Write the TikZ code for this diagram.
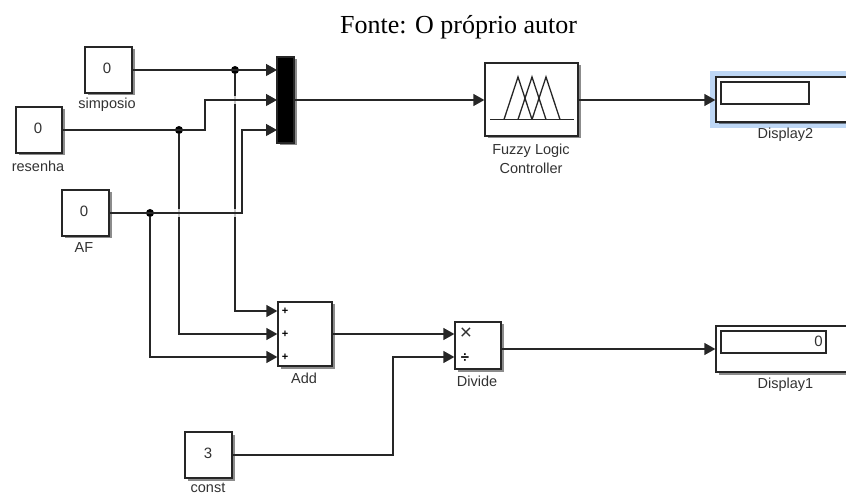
\documentclass[tikz,border=0pt]{standalone}
\usepackage{fontspec}
\setmainfont{Liberation Serif}
\setsansfont{Liberation Sans}
\usetikzlibrary{arrows.meta,shadows}
\definecolor{hl}{RGB}{190,215,245}
\definecolor{lab}{RGB}{50,50,50}
\tikzset{
  x=1pt,y=-1pt,
  blk/.style={draw=black!85,line width=1.3pt,fill=white,inner sep=0pt,
     drop shadow={shadow xshift=2.5pt,shadow yshift=-2.5pt,opacity=.45,fill=black}},
  lbl/.style={font=\sffamily\fontsize{14.5}{19}\selectfont,text=lab,inner sep=0pt,align=center},
  val/.style={font=\sffamily\fontsize{15}{15}\selectfont,text=lab,inner sep=0pt},
  wire/.style={draw=black!85,line width=1.3pt},
  sig/.style={wire,-{Triangle[length=11pt,width=12pt]}},
  dot/.style={circle,fill=black,inner sep=0pt,minimum size=8pt},
  sgn/.style={font=\sffamily\bfseries\fontsize{11}{11}\selectfont,inner sep=0pt,text=black},
  gap/.style={white,line width=2.5pt,opacity=.75},
}
\begin{document}
\begin{tikzpicture}
\useasboundingbox (0,0) rectangle (846,494);
\clip (0,0) rectangle (846,494);
\node[inner sep=0pt,anchor=base,font=\fontsize{26}{28}\selectfont] (cap) at (458.5,33.5) {Fonte: O próprio autor};
% constants
\node[blk,minimum width=47pt,minimum height=46pt] (simp) at (108.5,70) {};
\node[val] (simpv) at (107,68) {0};
\node[blk,minimum width=46pt,minimum height=46pt] (res) at (39,130) {};
\node[val] (resv) at (38,128.5) {0};
\node[blk,minimum width=47pt,minimum height=46pt] (af) at (85.5,213) {};
\node[val] (afv) at (84,211.5) {0};
\node[blk,minimum width=47pt,minimum height=46pt] (const) at (208.5,455) {};
\node[val] (constv) at (208,453.5) {3};
\node[lbl] (simpl) at (107,105) {simposio};
\node[lbl] (resl) at (38,166) {resenha};
\node[lbl] (afl) at (84,248) {AF};
\node[lbl] (constl) at (208,487.5) {const};
% mux
\node[blk,fill=black,minimum width=17pt,minimum height=86pt] (mux) at (285.5,100) {};
\coordinate (m1) at (277,70);
\coordinate (m2) at (277,100);
\coordinate (m3) at (277,130);
% fuzzy
\node[blk,minimum width=93pt,minimum height=73pt] (fuzzy) at (531.5,99.5) {};
\draw[wire] (490,119.5) -- (574,119.5);
\foreach \c in {518,532,546}
  \draw[wire,line join=miter] (\c-14,119.5) -- (\c,77) -- (\c+14,119.5);
\node[lbl] (fuzzyl) at (531,158.5) {Fuzzy Logic\\Controller};
% displays
\fill[hl] (710,71) rectangle (846,128);
\node[blk,minimum width=140pt,minimum height=45pt] (d2) at (786,99.5) {};
\draw[wire] (721,82) rectangle (809,104);
\node[lbl] (d2l) at (785.5,135) {Display2};
\node[blk,minimum width=140pt,minimum height=46pt] (d1) at (786,349) {};
\draw[wire] (721,331) rectangle (826,353);
\node[val,anchor=east] (d1v) at (823,341) {0};
\node[lbl] (d1l) at (785.5,385) {Display1};
% add
\node[blk,minimum width=54pt,minimum height=64pt] (add) at (305,334) {};
\node[sgn] (p1) at (285,311) {+};
\node[sgn] (p2) at (285,334) {+};
\node[sgn] (p3) at (285,357) {+};
\node[lbl] (addl) at (304,378) {Add};
% divide
\node[blk,minimum width=46pt,minimum height=47pt] (div) at (478,345.5) {};
\node[font=\sffamily\fontsize{21}{21}\selectfont,inner sep=0pt,text=lab] (tm) at (466,334) {×};
\node[font=\sffamily\bfseries\fontsize{15}{15}\selectfont,inner sep=0pt] (dv) at (465,358) {÷};
\node[lbl] (divl) at (477,381) {Divide};
% junctions
\node[dot] (j1) at (235,70) {};
\node[dot] (j2) at (179,130) {};
\node[dot] (j3) at (150,213) {};
% branches to the sum, broken where the mux wires cross them
\draw[sig] (j1) -- (235,311) -- (add.west |- 0,311);
\draw[sig] (j2) -- (179,334) -- (add.west);
\draw[sig] (j3) -- (150,357) -- (add.west |- 0,357);
\draw[gap] (235,96) -- (235,104) (235,209) -- (235,217) (179,209) -- (179,217);
% main wires
\draw[sig] (simp.east) -- (m1);
\draw[sig] (res.east) -- (205,130) -- (205,100) -- (m2);
\draw[sig] (af.east) -- (242,213) -- (242,130) -- (m3);
\draw[sig] (mux.east) -- (fuzzy.west |- mux.east);
\draw[sig] (fuzzy.east |- 0,100) -- (d2.west |- 0,100);
\draw[sig] (add.east) -- (div.west |- add.east);
\draw[sig] (const.east) -- (393,455) -- (393,357) -- (div.west |- 0,357);
\draw[sig] (div.east |- 0,349) -- (d1.west |- 0,349);
\end{tikzpicture}
\end{document}
